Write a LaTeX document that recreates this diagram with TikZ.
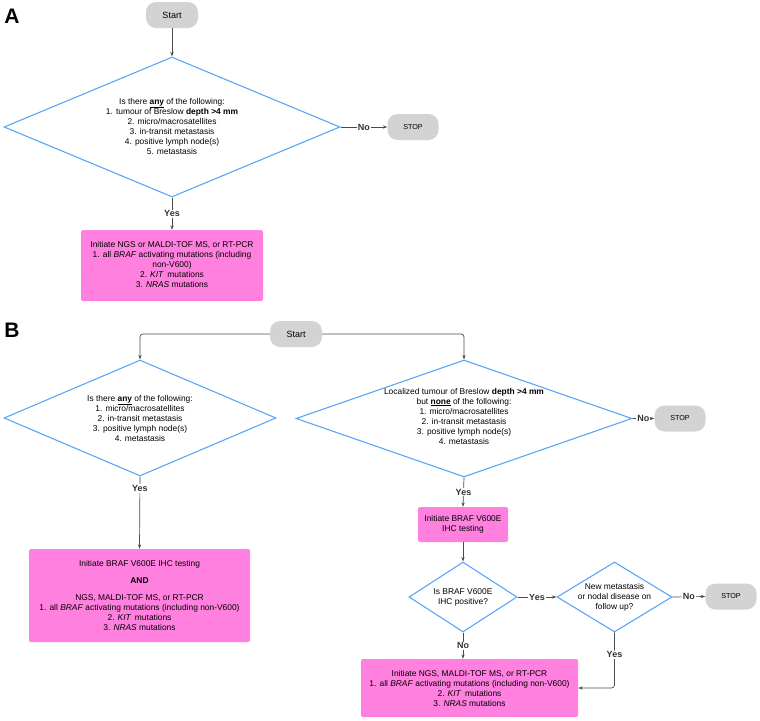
\documentclass[tikz,border=0pt]{standalone}
\usepackage{fontspec}
\setmainfont{Liberation Sans}
\usetikzlibrary{shapes.geometric,arrows.meta}
\definecolor{termgray}{HTML}{D3D3D3}
\definecolor{decblue}{HTML}{5BA6F5}
\definecolor{actpink}{HTML}{FF80DF}
\definecolor{linegray}{HTML}{4A4A4A}
\begin{document}
\begin{tikzpicture}[x=1pt,y=-1pt,
  txt/.style={font=\fontsize{8.4}{10}\selectfont, align=center, inner sep=0pt},
  term/.style={fill=termgray, rounded corners=10pt, minimum width=52pt, minimum height=26pt, inner sep=0pt, font=\fontsize{9}{10}\selectfont},
  stopbox/.style={term, minimum width=51pt, font=\fontsize{7.2}{8}\selectfont},
  decision/.style={diamond, draw=decblue, line width=1.1pt, inner sep=0pt, aspect=2},
  action/.style={fill=actpink, rounded corners=2pt, inner sep=0pt, font=\fontsize{8.4}{10}\selectfont, align=center},
  arr/.style={draw=linegray, line width=0.7pt, -{Stealth[length=4.5pt,width=3.2pt]}},
  lbl/.style={fill=white, inner sep=1pt, font=\fontsize{9}{10}\selectfont\bfseries, text=black!80},
  panel/.style={font=\fontsize{21}{24}\selectfont\bfseries}
]
\useasboundingbox (0,0) rectangle (760,720);

% ---------------- Panel A ----------------
\node[panel] (labA) at (12,16) {A};
\node[term] (startA) at (172,15) {Start};
\node[decision, minimum width=336pt, minimum height=140pt] (dA) at (172,127) {};
\node[txt] (dAt) at (172,126) {Is there \underline{\textbf{any}} of the following:\\
  1. tumour of Breslow \textbf{depth >4 mm}\\
  2. micro/macrosatellites\\
  3. in-transit metastasis\\
  4. positive lymph node(s)\\
  5. metastasis};
\node[stopbox] (stopA) at (413,127) {STOP};
\node[action, minimum width=182pt, minimum height=71pt] (boxA) at (172,265.5) {};
\node[txt] (boxAt) at (172,264) {Initiate NGS or MALDI-TOF MS, or RT-PCR\\
  1. all \textit{BRAF} activating mutations (including\\
  non-V600)\\
  2. \textit{KIT}\,\ mutations\\
  3. \textit{NRAS} mutations};

\draw[arr] (startA) -- (dA.north);
\draw[arr] (dA.east) -- node[lbl] (noA) {No} (stopA.west);
\draw[arr] (dA.south) -- node[lbl] (yesA) {Yes} (boxA.north);

% ---------------- Panel B ----------------
\node[panel] (labB) at (12,330) {B};
\node[term] (startB) at (296,334) {Start};

% left branch
\node[decision, minimum width=272pt, minimum height=116pt] (dB1) at (140,418) {};
\node[txt] (dB1t) at (140,418) {Is there \underline{\textbf{any}} of the following:\\
  1. micro/macrosatellites\\
  2. in-transit metastasis\\
  3. positive lymph node(s)\\
  4. metastasis};
\node[action, minimum width=221pt, minimum height=93pt] (boxB1) at (139.5,595.5) {};
\node[txt] (boxB1t) at (139.5,595) {Initiate BRAF V600E IHC testing\\[7pt]
  \textbf{AND}\\[7pt]
  NGS, MALDI-TOF MS, or RT-PCR\\
  1. all \textit{BRAF} activating mutations (including non-V600)\\
  2. \textit{KIT}\,\ mutations\\
  3. \textit{NRAS} mutations};

% right branch
\node[decision, minimum width=336pt, minimum height=117pt] (dB2) at (464,418.5) {};
\node[txt] (dB2t) at (464,416) {Localized tumour of Breslow \textbf{depth >4 mm}\\
  but \underline{\textbf{none}} of the following:\\
  1. micro/macrosatellites\\
  2. in-transit metastasis\\
  3. positive lymph node(s)\\
  4. metastasis};
\node[stopbox] (stopB1) at (680,418.5) {STOP};
\node[action, minimum width=90pt, minimum height=35pt] (ihc) at (463,524.5) {Initiate BRAF V600E\\IHC testing};
\node[decision, minimum width=108pt, minimum height=70pt] (dIhc) at (463,597) {};
\node[txt] (dIhct) at (463,597) {Is BRAF V600E\\IHC positive?};
\node[decision, minimum width=115pt, minimum height=70pt] (dFol) at (614.5,597) {};
\node[txt] (dFolt) at (614.5,597) {New metastasis\\or nodal disease on\\follow up?};
\node[stopbox] (stopB2) at (731,596.5) {STOP};
\node[action, minimum width=217pt, minimum height=58pt] (boxB2) at (469.5,688) {};
\node[txt] (boxB2t) at (469.5,688) {Initiate NGS, MALDI-TOF MS, or RT-PCR\\
  1. all \textit{BRAF} activating mutations (including non-V600)\\
  2. \textit{KIT}\,\ mutations\\
  3. \textit{NRAS} mutations};

% connectors
\draw[arr, rounded corners=3pt] (startB.west) -| (dB1.north);
\draw[arr, rounded corners=3pt] (startB.east) -| (dB2.north);
\draw[arr] (dB1.south) -- node[lbl, pos=0.165] (yesB1) {Yes} (boxB1.north);
\draw[arr] (dB2.east) -- node[lbl] (noB1) {No} (stopB1.west);
\draw[arr] (dB2.south) -- node[lbl] (yesB2) {Yes} (ihc.north);
\draw[arr] (ihc.south) -- (dIhc.north);
\draw[arr] (dIhc.east) -- node[lbl] (yesB3) {Yes} (dFol.west);
\draw[arr] (dFol.east) -- node[lbl] (noB2) {No} (stopB2.west);
\draw[arr] (dIhc.south) -- node[lbl] (noB3) {No} (boxB2.north -| dIhc.south);
\draw[arr, rounded corners=3pt] (dFol.south) |- node[lbl, pos=0.2] (yesB4) {Yes} (boxB2.east);
\end{tikzpicture}
\end{document}
